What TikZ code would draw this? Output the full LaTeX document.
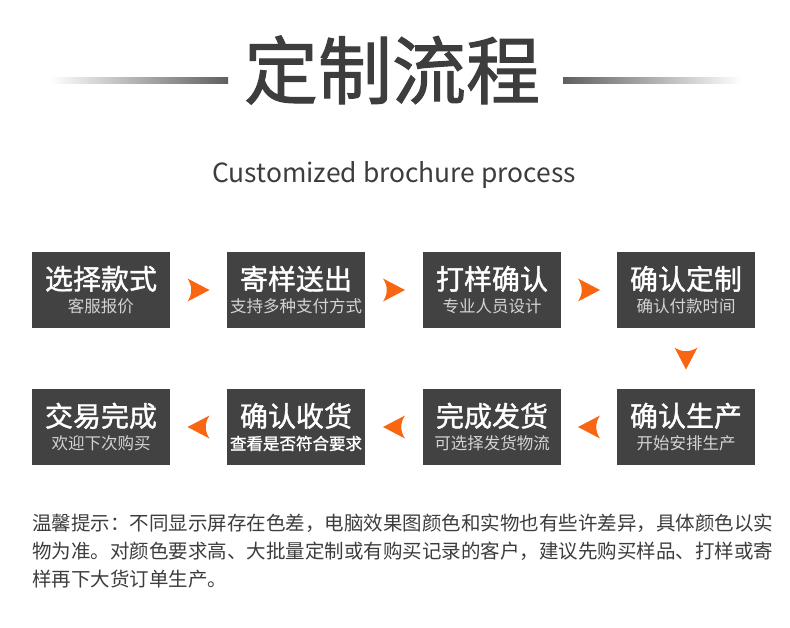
\documentclass[tikz,border=0pt]{standalone}
\usepackage{fontspec}
\setmainfont{Noto Sans CJK SC}
\newfontfamily\headfont[FakeBold=1.4]{Noto Sans CJK SC}
\usepackage{xcolor}
\usetikzlibrary{calc,math}
\definecolor{boxgray}{RGB}{66,66,66}
\definecolor{subgray}{RGB}{212,212,212}
\definecolor{myorange}{RGB}{248,102,18}
\definecolor{titlegray}{RGB}{61,61,61}
\definecolor{rulegray}{RGB}{95,95,95}

\newcommand\stepfmt[2]{{\headfont\fontsize{28}{32}\selectfont #1}\\[6pt]{\fontsize{16.5}{20}\selectfont\color{subgray}#2}}

\tikzset{
  stepbox/.style={fill=boxgray, text=white, minimum width=138, minimum height=76, inner sep=0, align=center},
  pics/pointer/.style={code={
    \fill[myorange] (-11,-11.5) -- (11,0) -- (-11,11.5) .. controls (-6,4) and (-6,-4) .. cycle;
  }}
}

\begin{document}
\begin{tikzpicture}[x=1pt,y=-1pt]
\tikzmath{
\ra=290;
\rb=427;
\xa=101;
\xb=296;
\xc=492;
\xd=686;
}
\useasboundingbox[fill=white] (0,0) rectangle (790,627);

% title
\node[text=titlegray, font=\headfont\fontsize{74}{80}\selectfont] (title) at (392,70) {定制流程};
\shade[left color=white, right color=rulegray] (50,77) rectangle (228,83);
\shade[left color=rulegray, right color=white] (563,77) rectangle (742,83);
\node[text=titlegray, font=\fontsize{26.4}{30}\selectfont] (subtitle) at (394,175) {Customized brochure process};

% steps
\node[stepbox] (b1) at (\xa,\ra) {\stepfmt{选择款式}{客服报价}};
\node[stepbox] (b2) at (\xb,\ra) {\stepfmt{寄样送出}{支持多种支付方式}};
\node[stepbox] (b3) at (\xc,\ra) {\stepfmt{打样确认}{专业人员设计}};
\node[stepbox] (b4) at (\xd,\ra) {\stepfmt{确认定制}{确认付款时间}};
\node[stepbox] (b5) at (\xd,\rb) {\stepfmt{确认生产}{开始安排生产}};
\node[stepbox] (b6) at (\xc,\rb) {\stepfmt{完成发货}{可选择发货物流}};
\node[stepbox] (b7) at (\xb,\rb) {\stepfmt{确认收货}{\headfont\color{white}查看是否符合要求}};
\node[stepbox] (b8) at (\xa,\rb) {\stepfmt{交易完成}{欢迎下次购买}};

% pointers
\pic at ($(b1.east)!0.5!(b2.west)$) {pointer};
\pic at ($(b2.east)!0.5!(b3.west)$) {pointer};
\pic at ($(b3.east)!0.5!(b4.west)$) {pointer};
\pic[rotate=-90] at ($(b4.south)!0.5!(b5.north)$) {pointer};
\pic[rotate=180] at ($(b5.west)!0.5!(b6.east)$) {pointer};
\pic[rotate=180] at ($(b6.west)!0.5!(b7.east)$) {pointer};
\pic[rotate=180] at ($(b7.west)!0.5!(b8.east)$) {pointer};

% note
\node[anchor=north west, inner sep=0, align=left, text=titlegray, font=\fontsize{19.5}{28}\selectfont] (note) at (32,514) {温馨提示：不同显示屏存在色差，电脑效果图颜色和实物也有些许差异，具体颜色以实\\物为准。对颜色要求高、大批量定制或有购买记录的客户，建议先购买样品、打样或寄\\样再下大货订单生产。};
\end{tikzpicture}
\end{document}
